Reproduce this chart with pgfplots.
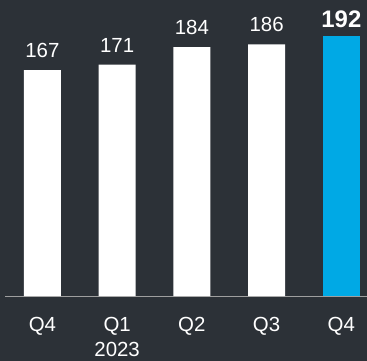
\documentclass[border=0pt]{standalone}
\usepackage{pgfplots}
\pgfplotsset{compat=1.18}
\usepackage{fontspec}
\setmainfont{Liberation Sans}
\definecolor{bg}{HTML}{2C3137}
\definecolor{barblue}{HTML}{00A9E5}
\begin{document}
\begin{tikzpicture}
\useasboundingbox (0,0) rectangle (367bp,361bp);
\fill[bg] (0,0) rectangle (367bp,361bp);
\clip (0,0) rectangle (367bp,361bp);
\begin{axis}[
  at={(5bp,65bp)}, anchor=south west,
  scale only axis, width=362bp, height=296bp,
  xmin=-0.5, xmax=4.343, ymin=0, ymax=218.8,
  axis y line=none, axis x line*=bottom,
  x axis line style={draw=gray!75, line width=0.8pt},
  major tick length=0,
  xtick={0,1,2,3,4},
  xticklabels={Q4,{Q1\\2023},Q2,Q3,Q4},
  xticklabel style={font=\fontsize{20.5}{25}\selectfont, text=white, align=center, anchor=north, inner sep=0pt, yshift=-21bp},
  clip=false,
  /pgf/number format/assume math mode=true,
]
\addplot[ybar, bar shift=0pt, bar width=37bp, fill=white, draw=none,
  nodes near coords,
  nodes near coords style={font=\fontsize{20.5}{24}\selectfont, text=white, anchor=south, inner sep=0pt, yshift=12bp}]
  coordinates {(0,167) (1,171) (2,184) (3,186)};
\addplot[ybar, bar shift=0pt, bar width=37bp, fill=barblue, draw=none,
  nodes near coords,
  nodes near coords style={font=\bfseries\fontsize{24}{28}\selectfont, text=white, anchor=south, inner sep=0pt, yshift=8bp}]
  coordinates {(4,192)};
\end{axis}
\end{tikzpicture}
\end{document}
